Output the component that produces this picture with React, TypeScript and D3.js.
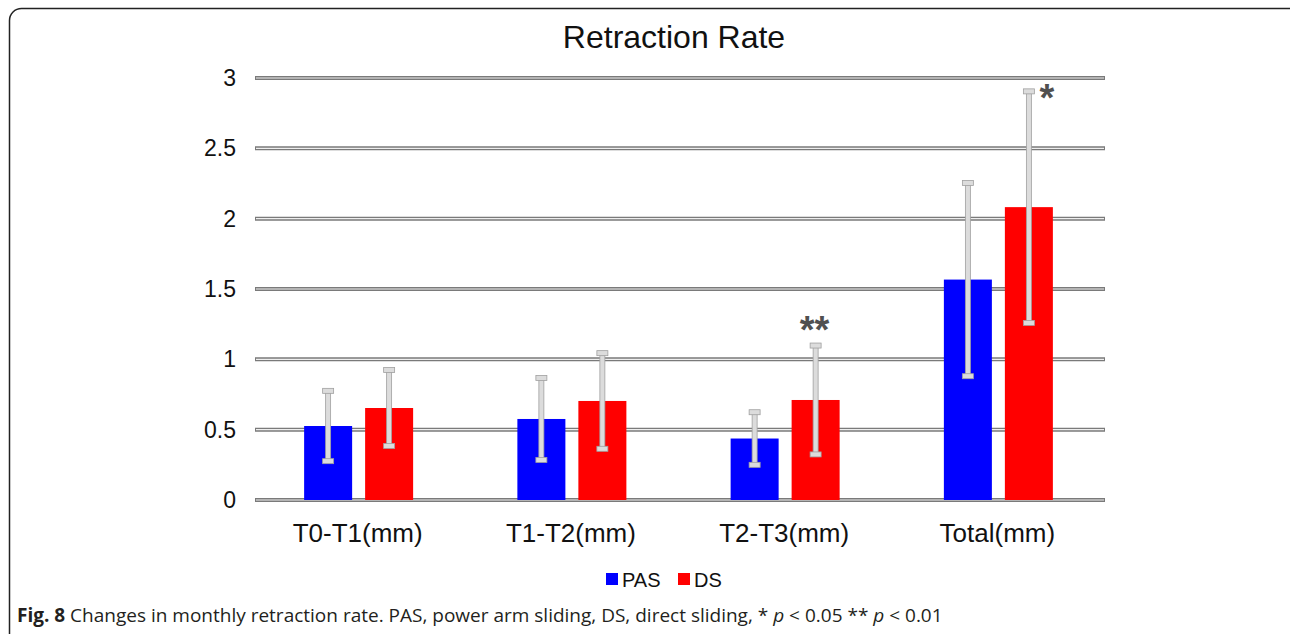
import { useRef, useEffect } from "react"
import * as d3 from "d3"

const categories = ["T0-T1(mm)", "T1-T2(mm)", "T2-T3(mm)", "Total(mm)"]
const seriesNames = ["PAS", "DS"]
const pasValues = [0.526, 0.576, 0.437, 1.567]
const dsValues = [0.654, 0.704, 0.711, 2.082]
const pasErrors = [0.25, 0.291, 0.187, 0.687]
const dsErrors = [0.27, 0.34, 0.387, 0.823]
const significance = ["", "", "**", "*"]
const yTicks = [0, 0.5, 1, 1.5, 2, 2.5, 3]
const colors = ["#0000ff", "#ff0000"]

const App = () => {
  const svgRef = useRef<SVGSVGElement>(null)

  useEffect(() => {
    const svg = d3.select(svgRef.current)
    svg.selectAll("*").remove()

    const left = 253
    const right = 1106
    const top = 78
    const bottom = 500
    const font = "'Liberation Sans', Arial, sans-serif"

    // Frame around the figure
    svg
      .append("rect")
      .attr("x", 9.5)
      .attr("y", 8.5)
      .attr("width", 1300)
      .attr("height", 700)
      .attr("rx", 12)
      .attr("fill", "white")
      .attr("stroke", "#222")
      .attr("stroke-width", 1.5)

    const x = d3.scaleBand().domain(categories).range([left, right])
    const y = d3.scaleLinear().domain([0, 3]).range([bottom, top])

    // Title
    svg
      .append("text")
      .attr("x", 674)
      .attr("y", 48)
      .attr("text-anchor", "middle")
      .style("font-family", font)
      .style("font-size", "32px")
      .attr("fill", "#111")
      .text("Retraction Rate")

    // Gridlines (double-line look)
    const grid = svg.append("g")
    yTicks.forEach((t) => {
      grid
        .append("line")
        .attr("x1", left + 2)
        .attr("x2", right - 1)
        .attr("y1", y(t))
        .attr("y2", y(t))
        .attr("stroke", "#7a7a7a")
        .attr("stroke-width", 4)
      grid
        .append("line")
        .attr("x1", left + 3)
        .attr("x2", right - 2)
        .attr("y1", y(t))
        .attr("y2", y(t))
        .attr("stroke", "#eeeeee")
        .attr("stroke-width", 1.2)
    })

    // Y tick labels
    svg
      .append("g")
      .selectAll("text")
      .data(yTicks)
      .enter()
      .append("text")
      .attr("x", 236)
      .attr("y", (d) => y(d) + 8)
      .attr("text-anchor", "end")
      .style("font-family", font)
      .style("font-size", "23px")
      .attr("fill", "#111")
      .text((d) => String(d))

    // X labels
    svg
      .append("g")
      .selectAll("text")
      .data(categories)
      .enter()
      .append("text")
      .attr("x", (d) => x(d)! + x.bandwidth() / 2 - 2)
      .attr("y", 542)
      .attr("text-anchor", "middle")
      .style("font-family", font)
      .style("font-size", "26px")
      .attr("fill", "#111")
      .text((d) => d)

    const inner = d3.scaleBand().domain(seriesNames).range([-55.5, 53.5]).paddingInner(0.213).paddingOuter(0)
    const allValues = [pasValues, dsValues]
    const allErrors = [pasErrors, dsErrors]

    // Bars
    seriesNames.forEach((s, si) => {
      svg
        .append("g")
        .selectAll("rect")
        .data(categories)
        .enter()
        .append("rect")
        .attr("x", (d) => x(d)! + x.bandwidth() / 2 + inner(s)!)
        .attr("y", (d, i) => y(allValues[si][i]))
        .attr("width", inner.bandwidth())
        .attr("height", (d, i) => bottom - y(allValues[si][i]))
        .attr("fill", colors[si])
    })

    // Error bars
    seriesNames.forEach((s, si) => {
      const g = svg.append("g")
      categories.forEach((c, i) => {
        const cx = x(c)! + x.bandwidth() / 2 + inner(s)! + inner.bandwidth() / 2
        const v = allValues[si][i]
        const e = allErrors[si][i]
        g.append("rect")
          .attr("x", cx - 2.5)
          .attr("y", y(v + e))
          .attr("width", 5)
          .attr("height", y(v - e) - y(v + e))
          .attr("fill", "#dcdcdc")
          .attr("stroke", "#a0a0a0")
          .attr("stroke-width", 0.8)
        ;[v + e, v - e].forEach((cv) => {
          g.append("rect")
            .attr("x", cx - 5.5)
            .attr("y", y(cv) - 2.5)
            .attr("width", 11)
            .attr("height", 5)
            .attr("fill", "#dcdcdc")
            .attr("stroke", "#a0a0a0")
            .attr("stroke-width", 0.8)
        })
        if (si === 1 && significance[i]) {
          const star = significance[i]
          g.append("text")
            .attr("x", star === "*" ? cx + 18 : cx - 1)
            .attr("y", star === "*" ? y(v + e) + 20 : y(v + e) - 3)
            .attr("text-anchor", "middle")
            .style("font-family", font)
            .style("font-size", "38px")
            .style("font-weight", "bold")
            .attr("fill", "#505050")
            .text(star)
        }
      })
    })

    // Legend
    const legend = svg.append("g")
    const legendX = [606, 678]
    seriesNames.forEach((s, si) => {
      legend
        .append("rect")
        .attr("x", legendX[si])
        .attr("y", 573)
        .attr("width", 12)
        .attr("height", 12)
        .attr("fill", colors[si])
      legend
        .append("text")
        .attr("x", legendX[si] + 16)
        .attr("y", 587)
        .style("font-family", font)
        .style("font-size", "20px")
        .attr("fill", "#111")
        .text(s)
    })

    // Caption
    const cap = svg
      .append("text")
      .attr("x", 17)
      .attr("y", 622)
      .style("font-family", "'Open Sans', 'Noto Sans', sans-serif")
      .style("font-size", "19px")
      .attr("fill", "#231f20")
    cap.append("tspan").style("font-weight", "bold").text("Fig. 8")
    cap.append("tspan").text(" Changes in monthly retraction rate. PAS, power arm sliding, DS, direct sliding, * ")
    cap.append("tspan").style("font-style", "italic").text("p")
    cap.append("tspan").text(" < 0.05 ** ")
    cap.append("tspan").style("font-style", "italic").text("p")
    cap.append("tspan").text(" < 0.01")
  }, [])

  return (
    <div style={{ position: "absolute", left: 0, top: 0 }}>
      <svg ref={svgRef} width={1290} height={634} style={{ display: "block", background: "white" }}></svg>
    </div>
  )
}

export default App
